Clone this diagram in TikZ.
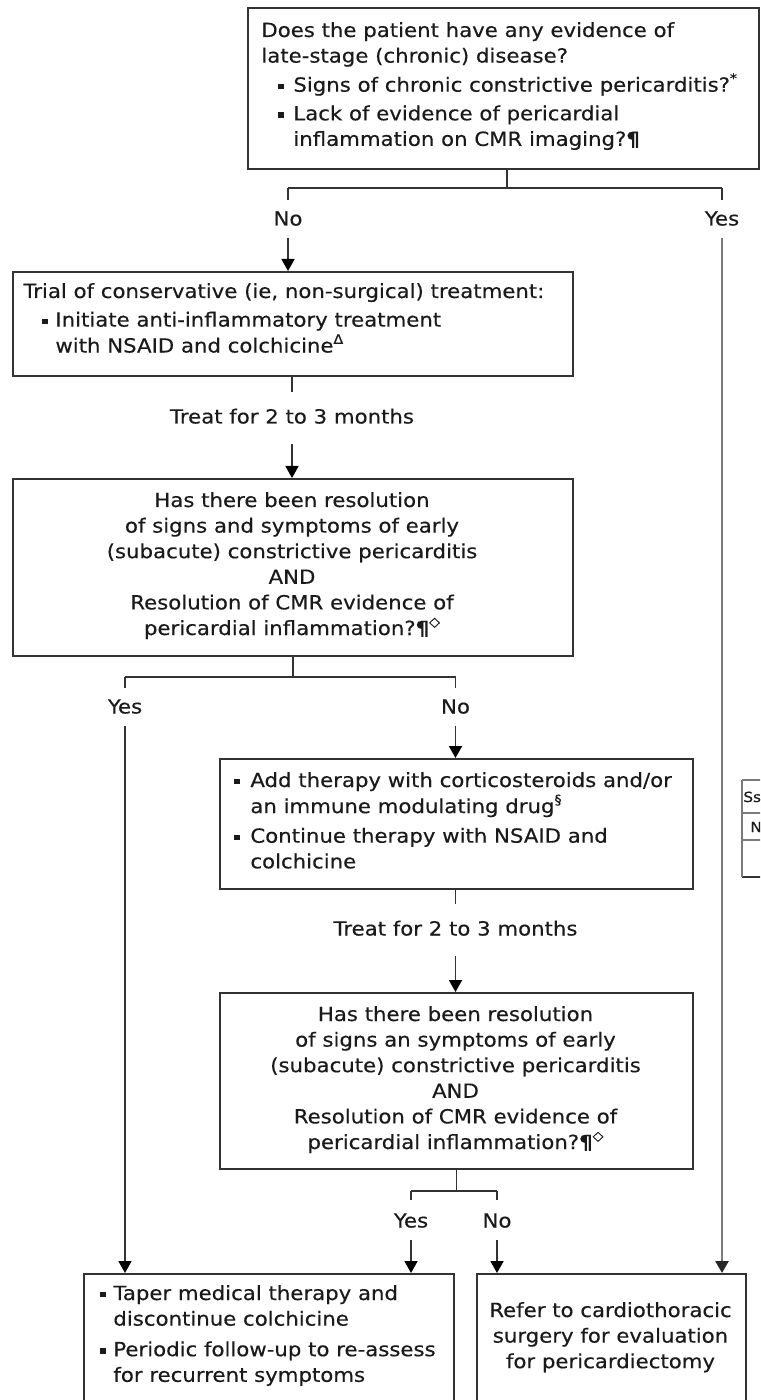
\documentclass[tikz,border=0pt]{standalone}
\usepackage{fontspec}
\setmainfont{DejaVu Sans}[FakeStretch=1.09,FakeBold=0.35]
\usetikzlibrary{arrows.meta,calc}
\definecolor{ln}{HTML}{333333}
\definecolor{tx}{HTML}{1A1A1A}
\definecolor{lg}{HTML}{7A7A7A}
\newcommand\sups[1]{\raisebox{0.45em}{\fontsize{6.5pt}{6.5pt}\selectfont #1}}
\newcommand\bul[1][7.5pt]{\makebox[#1][l]{\rule[1.3pt]{2.7pt}{2.7pt}}}
\setlength\tabcolsep{0pt}
\begin{document}
\begin{tikzpicture}[x=0.5pt,y=-0.5pt,
  box/.style={draw=ln,line width=1pt,inner sep=0pt,anchor=north west,fill=none},
  txt/.style={inner sep=0pt,text=tx,font=\fontsize{9.75pt}{12.8pt}\selectfont},
  lbl/.style={inner xsep=0pt,inner ysep=4pt,text=tx,text height=7.5pt,text depth=2pt,font=\fontsize{9.75pt}{12.8pt}\selectfont},
  tlbl/.style={lbl,inner ysep=8pt},
  con/.style={draw=ln,line width=0.9pt},
  arr/.style={con,-{Triangle[width=6.5pt,length=6pt,color=black]}},
  arrg/.style={draw=lg,line width=1.3pt,-{Triangle[width=6.5pt,length=6pt,color=black!85]}}]
\useasboundingbox (0,0) rectangle (760,1400);
\clip (0,0) rectangle (760,1400);
\fill[white] (0,0) rectangle (760,1400);

% boxes
\node[box,minimum width=255.5pt,minimum height=80.5pt] (T) at (247,7) {};
\node[box,minimum width=280pt,minimum height=52pt] (B2) at (12,271) {};
\node[box,minimum width=280pt,minimum height=88.5pt] (B3) at (12,478) {};
\node[box,minimum width=236.5pt,minimum height=65pt] (B4) at (219,758) {};
\node[box,minimum width=236.5pt,minimum height=88pt] (B5) at (219,992) {};
\node[box,minimum width=185pt,minimum height=73.5pt] (L) at (83,1273) {};
\node[box,minimum width=134.5pt,minimum height=73.5pt] (R) at (476,1273) {};

% texts
\node[txt,anchor=base west] (tT) at (261,37) {\begin{tabular}[t]{@{}l@{}l@{}}
\multicolumn{2}{@{}l@{}}{Does the patient have any evidence of}\\
\multicolumn{2}{@{}l@{}}{late-stage (chronic) disease?}\\[1.5pt]
\hspace{8.5pt}\bul & Signs of chronic constrictive pericarditis?\sups{*}\\[1.5pt]
\hspace{8.5pt}\bul & Lack of evidence of pericardial\\
 & inflammation on CMR imaging?\textbf{¶}
\end{tabular}};

\node[txt,anchor=base west] (tB2) at (23,298) {\begin{tabular}[t]{@{}l@{}l@{}}
\multicolumn{2}{@{}l@{}}{Trial of conservative (ie, non-surgical) treatment:}\\[1.5pt]
\hspace{9.5pt}\bul[6.5pt] & Initiate anti-inflammatory treatment\\
 & with NSAID and colchicine\sups{Δ}
\end{tabular}};

\node[txt,anchor=base] (tB3) at (292,507) {\begin{tabular}[t]{@{}c@{}}
Has there been resolution\\
of signs and symptoms of early\\
(subacute) constrictive pericarditis\\
AND\\
Resolution of CMR evidence of\\
pericardial inflammation?\textbf{¶}\sups{◇}
\end{tabular}};

\node[txt,anchor=base west] (tB4) at (234,787) {\begin{tabular}[t]{@{}l@{}l@{}}
\bul[8pt] & Add therapy with corticosteroids and/or\\
 & an immune modulating drug\sups{§}\\[2pt]
\bul[8pt] & Continue therapy with NSAID and\\
 & colchicine
\end{tabular}};

\node[txt,anchor=base] (tB5) at (455.5,1021) {\begin{tabular}[t]{@{}c@{}}
Has there been resolution\\
of signs an symptoms of early\\
(subacute) constrictive pericarditis\\
AND\\
Resolution of CMR evidence of\\
pericardial inflammation?\textbf{¶}\sups{◇}
\end{tabular}};

\node[txt,anchor=base west] (tL) at (100,1300) {\begin{tabular}[t]{@{}l@{}l@{}}
\bul[6.5pt] & Taper medical therapy and\\
 & discontinue colchicine\\[2.5pt]
\bul[6.5pt] & Periodic follow-up to re-assess\\
 & for recurrent symptoms
\end{tabular}};

\node[txt,anchor=base] (tR) at (610.5,1317) {\begin{tabular}[t]{@{}c@{}}
Refer to cardiothoracic\\
surgery for evaluation\\
for pericardiectomy
\end{tabular}};

% labels
\node[lbl] (no1) at (288,220) {No};
\node[lbl] (yes1) at (722,220) {Yes};
\node[tlbl] (tr1) at (292,418) {Treat for 2 to 3 months};
\node[lbl] (yes2) at (125,708) {Yes};
\node[lbl] (no2) at (455.5,708) {No};
\node[tlbl] (tr2) at (455.5,930) {Treat for 2 to 3 months};
\node[lbl] (yes3) at (411,1222) {Yes};
\node[lbl] (no3) at (497,1222) {No};

% junctions
\coordinate (j1) at (507,188);
\coordinate (j1l) at (288,188);
\coordinate (j1r) at (722,188);
\coordinate (y2) at (0,677);
\coordinate (j2l) at (125,677);
\coordinate (j2r) at (455.5,677);
\coordinate (y3) at (0,1191);
\coordinate (j3l) at (411,1191);
\coordinate (j3r) at (497,1191);

% connectors: top split
\draw[con] (j1 |- T.south) -- (j1);
\draw[con] (j1l) -- (j1r);
\draw[con] (j1l) -- ++(0,12);
\draw[con] (j1r) -- ++(0,12);
\draw[arr] (no1.south) -- (no1.south |- B2.north);
\draw[arrg] (yes1.south) -- (yes1.south |- R.north);

\draw[con] (tr1.north |- B2.south) -- (tr1.north);
\draw[arr] (tr1.south) -- (tr1.south |- B3.north);

% box3 split
\draw[con] (B3.south) -- (B3.south |- y2);
\draw[con] (j2l) -- (j2r);
\draw[con] (j2l) -- ++(0,11);
\draw[con] (j2r) -- ++(0,11);
\draw[arr] (no2.south) -- (no2.south |- B4.north);
\draw[arr] (yes2.south) -- (yes2.south |- L.north);

\draw[con] (tr2.north |- B4.south) -- (tr2.north);
\draw[arr] (tr2.south) -- (tr2.south |- B5.north);

% box5 split
\draw[con] (B5.south) -- (B5.south |- y3);
\draw[con] (j3l) -- (j3r);
\draw[con] (j3l) -- ++(0,9);
\draw[con] (j3r) -- ++(0,9);
\draw[arr] (yes3.south) -- (yes3.south |- L.north);
\draw[arr] (no3.south) -- (no3.south |- R.north);

% stray table fragment at right edge
\draw[draw=lg,line width=0.8pt] (742,780) -- (770,780) (742,813) -- (770,813) (742,840) -- (770,840);
\draw[draw=ln,line width=1pt] (742,877) -- (770,877);
\draw[draw=lg,line width=0.8pt] (742,780) -- (742,877);
\node[inner sep=0pt,anchor=base west,text=tx,font=\fontsize{7pt}{8pt}\selectfont] (fS) at (743,802) {Ss};
\node[inner sep=0pt,anchor=base west,text=tx,font=\fontsize{7pt}{8pt}\selectfont] (fN) at (750,832) {N};
\end{tikzpicture}
\end{document}
